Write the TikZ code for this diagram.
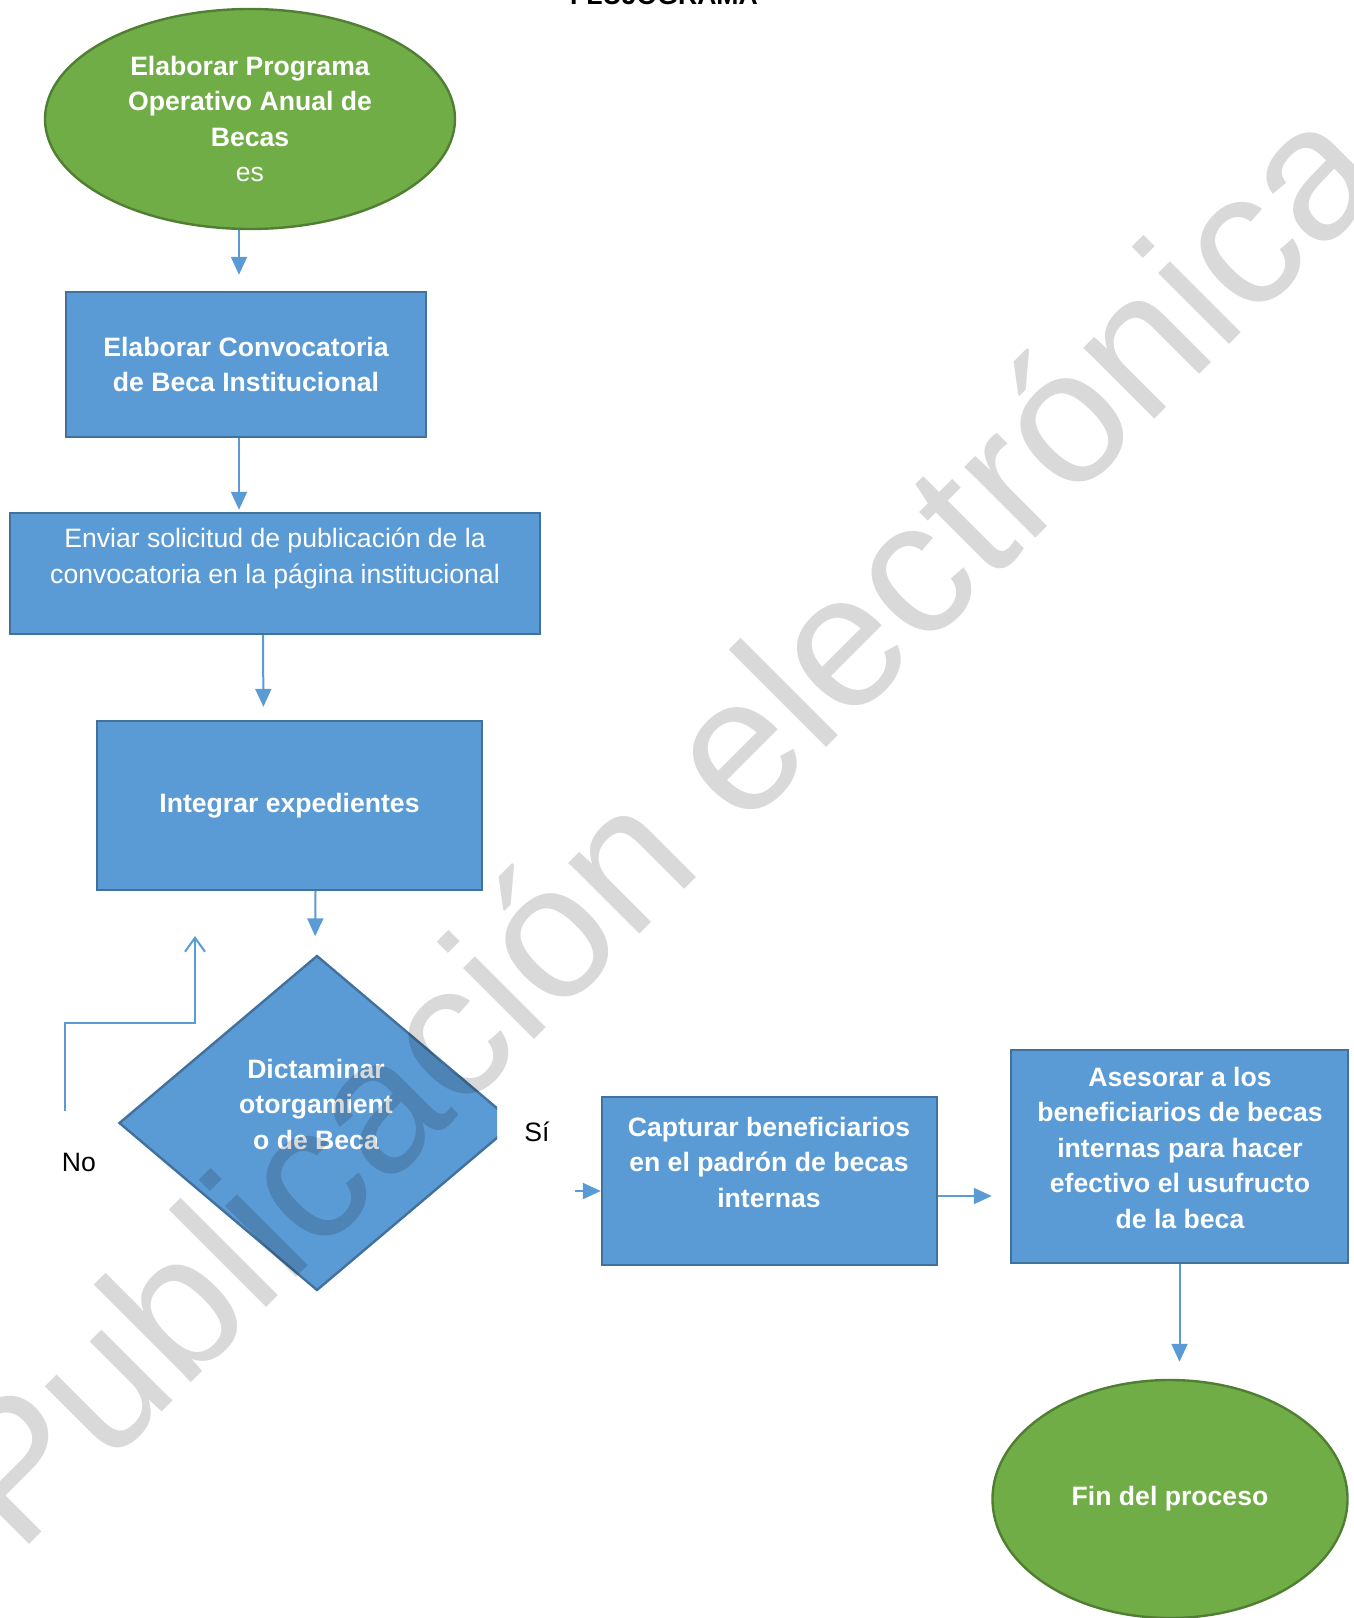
\documentclass[tikz,border=0pt]{standalone}
\usepackage{fontspec}
\setmainfont{Liberation Sans}
\usetikzlibrary{shapes.geometric,arrows.meta}
\definecolor{azul}{RGB}{91,155,213}
\definecolor{azulborde}{RGB}{65,113,156}
\definecolor{verde}{RGB}{112,173,71}
\definecolor{verdeborde}{RGB}{80,126,50}
\definecolor{grismarca}{RGB}{217,217,217}
\tikzset{
  caja/.style={draw=azulborde, fill=azul, line width=1.2pt, inner sep=0pt},
  elipse/.style={ellipse, draw=verdeborde, fill=verde, line width=1.2pt, inner sep=0pt},
  rombo/.style={diamond, draw=azulborde, fill=azul, line width=1.2pt, inner sep=0pt},
  texto/.style={text=white, font=\fontsize{13.3}{17.75}\selectfont\bfseries, align=center},
  etiqueta/.style={font=\fontsize{13.3}{17.75}\selectfont, anchor=base, inner sep=0pt},
  linea/.style={draw=azul, line width=1pt},
  flecha/.style={linea, -{Triangle[length=9pt,width=8pt]}},
  marca/.style={text=grismarca, font=\fontsize{95}{95}\selectfont, rotate=45, anchor=base west, inner sep=0pt}
}
\begin{document}
\begin{tikzpicture}[x=0.5pt,y=-0.5pt]
\useasboundingbox (0,0) rectangle (1354,1618);
\node[etiqueta, font=\fontsize{13.3}{17.75}\selectfont\bfseries] (titulo) at (664,4) {FLUJOGRAMA};
\node[elipse, texto, minimum width=205pt, minimum height=110pt] (poa) at (250,119) {Elaborar Programa\\Operativo Anual de\\Becas\\\mdseries es};
\node[caja, texto, minimum width=180pt, minimum height=72.5pt] (conv) at (246,364.5) {Elaborar Convocatoria\\de Beca Institucional};
\node[caja, minimum width=265pt, minimum height=60.5pt] (envio) at (275,573.5) {};
\node[texto, font=\fontsize{13.3}{17.75}\selectfont] (envio-t) at (275,558.5) {Enviar solicitud de publicación de la\\convocatoria en la página institucional};
\node[caja, texto, minimum width=192.5pt, minimum height=84.5pt] (integ) at (289.5,805.5) {Integrar expedientes};
% rombo recortado a la derecha
\begin{scope}
\clip (0,0) rectangle (497,1618);
\node[rombo, minimum width=198pt, minimum height=167.5pt] (dict) at (317,1123) {};
\end{scope}
\node[texto] (dict-t) at (316,1104) {Dictaminar\\otorgamient\\o de Beca};
\node[caja, minimum width=167.5pt, minimum height=84pt] (capt) at (769.5,1181) {};
\node[texto] (capt-t) at (769,1162) {Capturar beneficiarios\\en el padrón de becas\\internas};
\node[caja, minimum width=168.5pt, minimum height=106.5pt] (ases) at (1179.5,1156.5) {};
\node[texto] (ases-t) at (1180,1147.5) {Asesorar a los\\beneficiarios de becas\\internas para hacer\\efectivo el usufructo\\de la beca};
\node[elipse, texto, minimum width=177.5pt, minimum height=119pt] (fin) at (1170,1499) {Fin del proceso};
\node[etiqueta] (no) at (79,1171) {No};
\node[etiqueta] (si) at (537,1141) {Sí};
% conectores
\draw[flecha, shorten >=8pt] ([xshift=-5.5pt]poa.south) -- ([xshift=-3.5pt]conv.north);
\draw[flecha, shorten >=1pt] ([xshift=-3.5pt]conv.south) -- ([xshift=-18pt]envio.north);
\draw[flecha, shorten >=6.5pt] ([xshift=-6pt]envio.south) -- ([xshift=-13pt]integ.north);
\draw[flecha, shorten >=9pt] ([xshift=13pt]integ.south) -- ([xshift=-1pt]dict.north);
\coordinate (no-ini) at (65,1111);
\coordinate (no-codo) at (65,1023);
\coordinate (no-fin) at (195,936);
\draw[linea, -{Straight Barb[length=7pt,width=10pt]}] (no-ini) -- (no-codo) -| (no-fin);
\coordinate (si-ini) at (575,1191);
\draw[flecha] (si-ini) -- (si-ini -| capt.west);
\coordinate (capt-sal) at ([yshift=-7.5pt]capt.east);
\draw[flecha, shorten >=9pt] (capt-sal) -- (capt-sal -| ases.west);
\draw[flecha, shorten >=8.5pt] (ases.south) -- (ases.south |- fin.north);
% marca de agua
\begin{scope}[blend mode=multiply]
\node[marca] (agua) at (18,1556) {Publicación electrónica};
\end{scope}
\end{tikzpicture}
\end{document}
